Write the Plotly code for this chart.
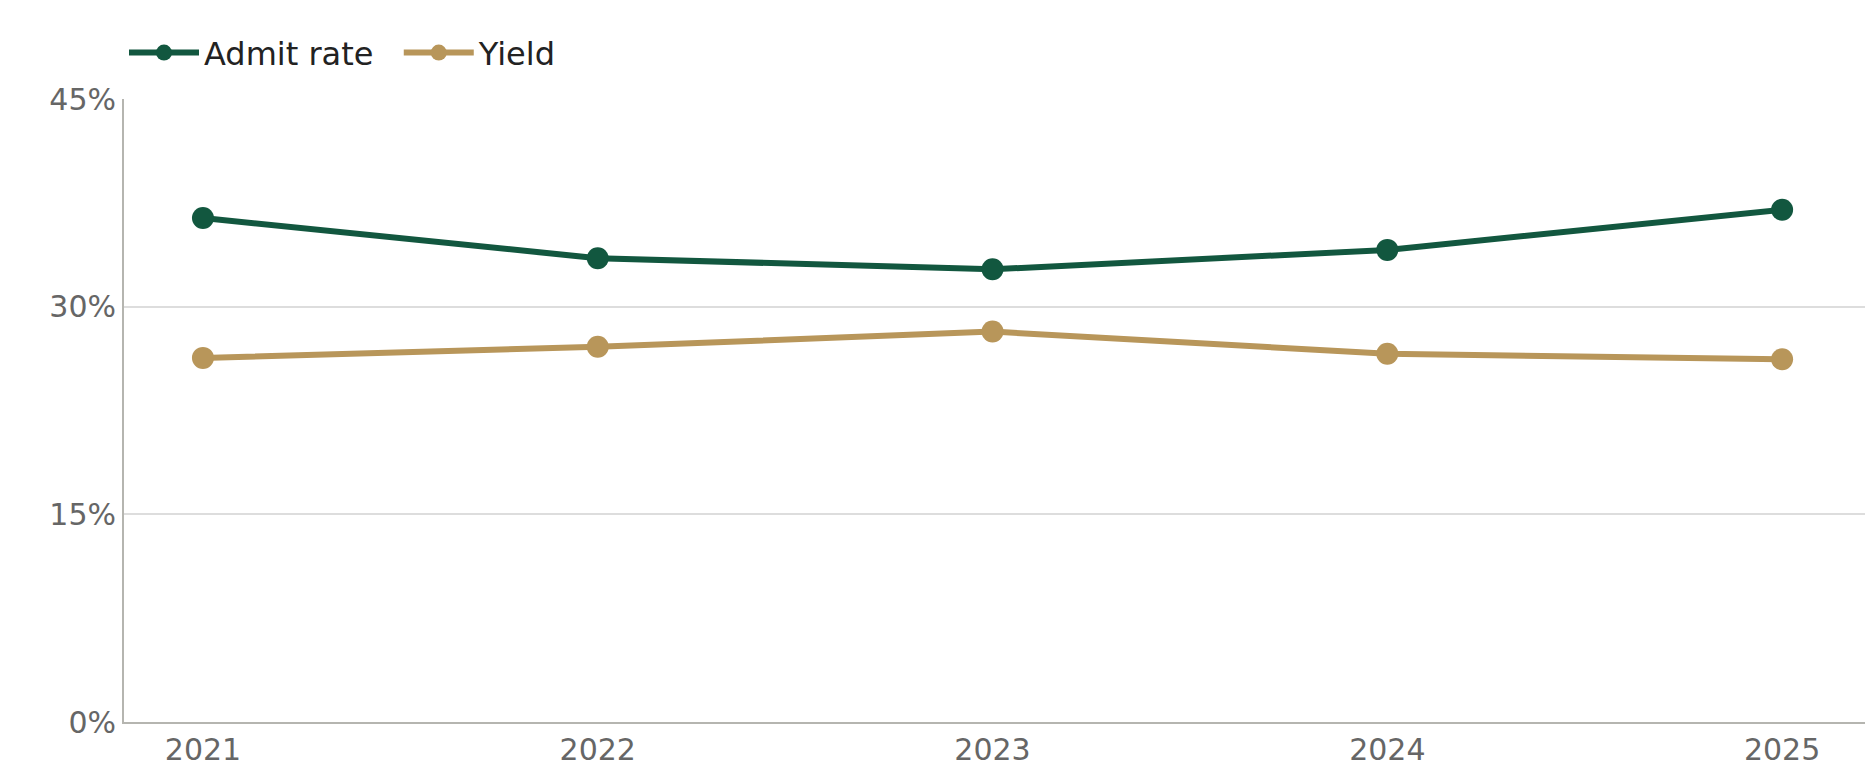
import plotly.graph_objects as go

years = [2021, 2022, 2023, 2024, 2025]
admit_rate = [36.4, 33.5, 32.7, 34.1, 37.0]
yield_rate = [26.3, 27.1, 28.2, 26.6, 26.2]
y_ticks = [0, 15, 30, 45]
y_labels = ["0%", "15%", "30%", "45%"]

fig = go.Figure()
fig.add_trace(go.Scatter(x=years, y=admit_rate, name="Admit rate  ", mode="lines+markers",
                         line=dict(color="#12573f", width=6), marker=dict(size=22, color="#12573f")))
fig.add_trace(go.Scatter(x=years, y=yield_rate, name="Yield", mode="lines+markers",
                         line=dict(color="#b8965a", width=6), marker=dict(size=22, color="#b8965a")))
fig.update_layout(
    width=1875, height=783, plot_bgcolor="white", paper_bgcolor="white",
    margin=dict(l=116, r=18, t=91, b=69),
    font=dict(family="DejaVu Sans", size=30, color="#666666"),
    legend=dict(orientation="h", x=0.0, xanchor="left", y=1.03, yanchor="bottom",
                font=dict(size=32, color="#222222"), itemwidth=70),
    xaxis=dict(range=[2020.8, 2025.21], tickvals=years, showgrid=False, showline=True,
               linecolor="#b5b5b0", linewidth=2, ticks="", zeroline=False),
    yaxis=dict(range=[0, 45], tickvals=y_ticks, ticktext=y_labels, showgrid=True,
               gridcolor="#dddddd", gridwidth=2, showline=True, linecolor="#b5b5b0",
               linewidth=2, zeroline=False, ticks=""),
)
fig.write_html("out.html")
